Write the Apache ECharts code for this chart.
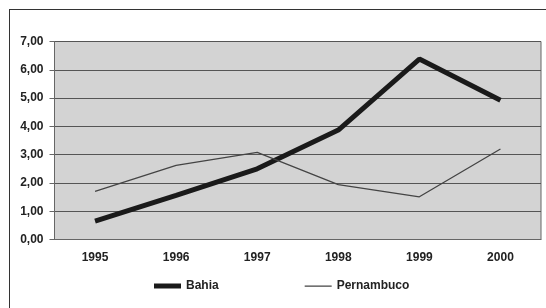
<!DOCTYPE html>
<html>
<head>
<meta charset="utf-8">
<script src="https://cdn.jsdelivr.net/npm/echarts@6/dist/echarts.min.js"></script>
<style>
  html, body { margin: 0; padding: 0; background: #fff; }
  #frame { position: absolute; left: 9px; top: 9px; width: 600px; height: 400px; border: 1.5px solid #333; }
  #main { position: absolute; left: 0; top: 0; width: 546px; height: 308px; }
</style>
</head>
<body>
<div id="frame"></div>
<div id="main"></div>
<script>
// dados
const years = ['1995', '1996', '1997', '1998', '1999', '2000'];
const bahia = [0.65, 1.56, 2.5, 3.87, 6.38, 4.92];
const pernambuco = [1.70, 2.62, 3.08, 1.94, 1.51, 3.2];

const chart = echarts.init(document.getElementById('main'));

const font = { fontFamily: 'Liberation Sans', fontWeight: 'bold', fontSize: 12, color: '#222' };

// ícones da legenda: barra grossa e linha fina (cantos mínimos para manter a escala)
const thickIcon = 'path://M0,0H27V5H0Z';
const thinIcon = 'path://M0,0H0.01V0.01H0ZM0,2H27V3.2H0ZM26.99,4.99H27V5H26.99Z';

const option = {
  animation: false,
  grid: {
    left: 54.5, top: 41.5, right: 5, bottom: 68.5,
    show: true, backgroundColor: '#d3d3d3', borderColor: '#666', borderWidth: 1
  },
  legend: {
    left: 149, top: 275,
    itemWidth: 27, itemHeight: 5, itemGap: 86,
    textStyle: font,
    data: [
      { name: 'Bahia', icon: thickIcon, itemStyle: { color: '#1a1a1a' } },
      { name: 'Pernambuco', icon: thinIcon, itemStyle: { color: '#444' } }
    ]
  },
  xAxis: {
    type: 'category',
    data: years,
    boundaryGap: true,
    axisLine: { lineStyle: { color: '#666' } },
    axisTick: { length: 5, lineStyle: { color: '#666' } },
    axisLabel: Object.assign({ margin: 12 }, font)
  },
  yAxis: {
    type: 'value',
    min: 0, max: 7, interval: 1,
    axisLine: { show: true, lineStyle: { color: '#666' } },
    axisTick: { show: true, length: 5, lineStyle: { color: '#666' } },
    splitLine: { lineStyle: { color: '#555', width: 1 } },
    axisLabel: Object.assign({
      margin: 11,
      formatter: v => v.toFixed(2).replace('.', ',')
    }, font)
  },
  series: [
    {
      name: 'Bahia', type: 'line', data: bahia,
      symbol: 'none',
      lineStyle: { color: '#1a1a1a', width: 5 },
      itemStyle: { color: '#1a1a1a' }
    },
    {
      name: 'Pernambuco', type: 'line', data: pernambuco,
      symbol: 'none',
      lineStyle: { color: '#444', width: 1.3 },
      itemStyle: { color: '#444' }
    }
  ]
};

option && chart.setOption(option);
</script>
</body>
</html>
